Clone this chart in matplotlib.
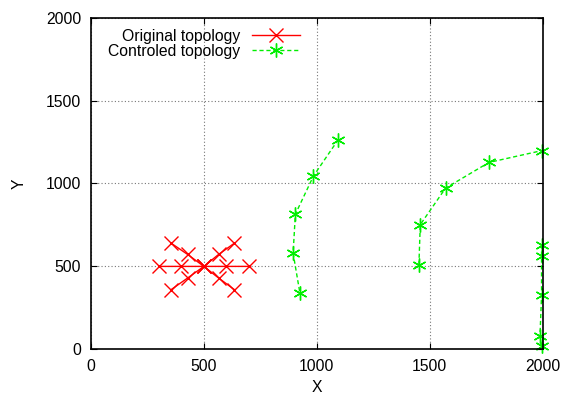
import numpy as np
import matplotlib.pyplot as plt

plt.rcParams['font.family'] = ['Liberation Sans', 'DejaVu Sans']

# original topology (star around 500,500), NaN breaks the line into branches
orig_x = [300, 400, 500, 600, 700, np.nan,
          355, 428, 500, 565, 635, np.nan,
          355, 428, 500, 565, 635]
orig_y = [500, 500, 500, 500, 500, np.nan,
          640, 572, 500, 430, 360, np.nan,
          360, 430, 500, 572, 640]

# controlled topology, three groups
ctrl_x = [1095, 985, 905, 895, 925, np.nan,
          1452, 1458, 1570, 1762, 1995, np.nan,
          1995, 1995, 1995, 1988, 1995]
ctrl_y = [1265, 1045, 815, 580, 340, np.nan,
          510, 752, 972, 1127, 1198, np.nan,
          632, 563, 325, 80, 22]

fig = plt.figure(figsize=(5.64, 3.95), dpi=100)
ax = fig.add_axes([0.1613, 0.1157, 0.8009, 0.8395])

ax.plot(orig_x, orig_y, color='#ff0000', lw=1.0, marker='x', ms=10, mew=1.0,
        label='Original topology', clip_on=False)
ax.plot(ctrl_x, ctrl_y, color='#00ee00', lw=1.0, ls=(0, (3, 2)), marker=(6, 2, 0),
        ms=10, mew=1.0, label='Controled topology', clip_on=False)

ax.set_xlim(0, 2000)
ax.set_ylim(0, 2000)
ax.set_xticks([0, 500, 1000, 1500, 2000])
ax.set_yticks([0, 500, 1000, 1500, 2000])
ax.grid(True, color='#777777', ls=(0, (1, 2)), lw=0.8)
ax.tick_params(direction='in', length=4, labelsize=11.3, top=True, right=True, pad=7)
for s in ax.spines.values():
    s.set_linewidth(1.2)

ax.set_xlabel('X', fontsize=11.3, labelpad=4)
ax.set_ylabel('Y', fontsize=11.3, labelpad=14, rotation=90)

leg = ax.legend(loc='upper left', bbox_to_anchor=(0.014, 1.0), frameon=False,
                markerfirst=False, fontsize=11.3, handlelength=3.0,
                handletextpad=0.77, labelspacing=0.0, borderaxespad=0.3)
for t in leg.get_texts():
    t.set_ha('right')
leg._legend_box.align = 'right'

fig.savefig('out.png', dpi=100)
